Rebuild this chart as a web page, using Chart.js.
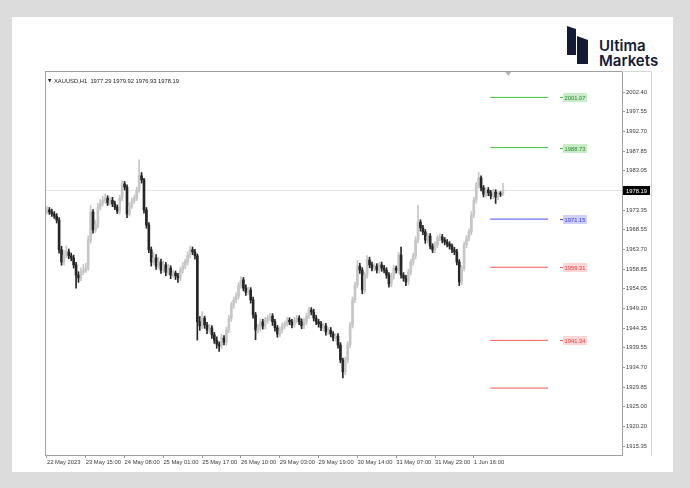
<!DOCTYPE html>
<html>
<head>
<meta charset="utf-8">
<script src="https://cdn.jsdelivr.net/npm/chart.js@4.4.0/dist/chart.umd.min.js"></script>
<style>
  html, body { margin: 0; padding: 0; width: 690px; height: 488px; overflow: hidden; background: #dcdcdc; }
  #card { position: absolute; left: 12px; top: 17px; width: 661px; height: 455px; background: #fff; }
  #logo { position: absolute; left: 560px; top: 20px; }
  #brand { position: absolute; left: 599px; top: 38px; font-family: Inter, Roboto, sans-serif; font-weight: 600; font-size: 15px; line-height: 15px; color: #131a35; }
  canvas { position: absolute; left: 0; top: 0; }
</style>
</head>
<body>
<div id="card"></div>
<svg id="logo" width="40" height="50" viewBox="0 0 40 50">
  <polygon points="7,6 16,9 16,35 7,35" fill="#131a35"/>
  <polygon points="17,16 28,20 28,44 17,44" fill="#131a35"/>
</svg>
<div id="brand">Ultima<br>Markets</div>
<canvas id="c" width="690" height="488"></canvas>
<script>
// XAUUSD H1 candles
const opens = [
  1973.0,1973.4,1972.9,1972.4,1971.9,1970.9,1963.6,1960.6,1962.3,1963.1,
  1962.1,1961.6,1959.9,1957.4,1956.7,1958.1,1958.6,1959.1,1966.0,1972.9,
  1968.5,1969.7,1974.1,1975.1,1975.8,1976.3,1975.1,1975.8,1974.9,1974.1,
  1973.1,1976.3,1979.8,1979.0,1972.4,1974.4,1975.6,1976.3,1978.3,1981.8,
  1980.8,1973.4,1969.7,1963.6,1960.6,1961.6,1959.6,1960.6,1958.6,1959.9,
  1958.1,1959.1,1957.4,1957.9,1957.2,1956.7,1958.6,1959.6,1960.6,1962.3,
  1963.6,1963.1,1962.1,1945.9,1944.9,1946.8,1945.1,1943.9,1944.4,1942.7,
  1941.4,1940.4,1940.0,1941.9,1940.9,1943.9,1946.8,1950.0,1951.3,1952.2,
  1954.9,1956.2,1954.2,1953.2,1953.7,1951.3,1947.6,1943.9,1944.4,1945.9,
  1944.9,1946.3,1946.8,1947.3,1945.9,1944.4,1942.9,1943.9,1944.9,1945.4,
  1946.3,1945.9,1945.1,1946.3,1946.8,1945.9,1944.9,1945.9,1947.3,1948.8,
  1948.3,1946.8,1945.9,1945.4,1944.4,1944.9,1943.4,1943.9,1942.9,1941.9,
  1942.4,1940.2,1936.5,1933.6,1936.5,1940.2,1945.1,1951.3,1954.9,1959.6,
  1958.6,1953.7,1957.4,1961.1,1959.9,1959.1,1959.6,1958.6,1959.9,1959.1,
  1958.6,1957.4,1955.2,1957.2,1959.1,1958.6,1962.3,1957.4,1956.7,1955.7,
  1958.1,1960.6,1962.1,1966.0,1970.4,1969.0,1968.0,1966.0,1967.0,1964.5,
  1963.6,1964.8,1966.5,1966.8,1966.0,1965.5,1965.0,1964.5,1963.6,1963.1,
  1960.6,1955.7,1959.1,1964.8,1966.5,1968.0,1972.2,1975.8,1979.5,1981.3,
  1978.8,1977.3,1978.3,1977.6,1976.8,1977.8,1976.6,1977.3,1977.29
];
const highs = [
  1974.2,1974.0,1973.6,1973.0,1972.5,1971.5,1964.5,1963.4,1964.6,1963.8,
  1962.8,1962.3,1960.5,1958.2,1959.2,1960.0,1960.3,1967.0,1974.5,1973.5,
  1970.8,1975.0,1976.0,1976.8,1977.3,1976.9,1976.6,1976.5,1975.6,1974.6,
  1977.0,1980.6,1980.4,1979.6,1975.2,1976.3,1977.1,1979.0,1985.7,1982.6,
  1981.2,1974.0,1970.3,1964.3,1962.9,1962.4,1961.8,1961.3,1960.8,1960.5,
  1960.0,1959.7,1958.5,1958.4,1957.8,1959.3,1960.5,1961.3,1963.0,1964.5,
  1964.3,1963.7,1962.6,1947.2,1948.4,1947.3,1945.8,1945.3,1945.0,1943.3,
  1942.2,1941.0,1942.8,1942.5,1944.6,1947.5,1950.7,1952.0,1953.0,1955.6,
  1957.0,1956.8,1955.0,1954.4,1954.3,1952.0,1948.2,1945.3,1946.6,1946.5,
  1947.0,1947.5,1948.0,1947.9,1946.5,1945.0,1944.6,1945.6,1946.0,1947.0,
  1946.9,1946.5,1947.0,1947.5,1947.4,1946.6,1946.8,1948.0,1949.5,1949.4,
  1949.0,1947.5,1946.5,1946.0,1945.6,1945.5,1944.5,1944.5,1943.5,1943.0,
  1943.0,1940.8,1937.0,1937.2,1941.0,1945.8,1952.0,1955.6,1961.0,1960.3,
  1959.2,1958.1,1962.2,1961.8,1960.6,1960.3,1960.2,1960.6,1960.6,1959.8,
  1959.2,1958.0,1957.9,1959.8,1959.6,1963.0,1964.3,1958.0,1957.3,1958.8,
  1961.3,1962.8,1966.8,1974.6,1971.0,1969.6,1968.6,1967.6,1967.6,1965.1,
  1965.5,1967.2,1967.5,1967.4,1966.6,1966.1,1965.6,1965.1,1964.2,1963.7,
  1961.2,1959.8,1965.5,1967.2,1968.7,1973.0,1976.5,1980.2,1982.7,1981.8,
  1979.4,1978.9,1978.9,1978.2,1978.5,1978.4,1977.9,1977.9,1979.92
];
const lows = [
  1972.4,1972.3,1971.8,1971.3,1970.2,1962.8,1959.8,1959.9,1961.6,1961.4,
  1960.9,1959.1,1954.2,1955.6,1956.0,1957.5,1958.0,1958.5,1965.2,1967.7,
  1967.9,1969.0,1973.4,1974.4,1975.1,1974.5,1974.6,1974.2,1973.5,1972.5,
  1972.4,1975.7,1978.3,1971.5,1971.9,1973.8,1975.0,1975.7,1977.7,1980.0,
  1972.6,1968.9,1962.9,1959.6,1959.9,1958.8,1959.0,1957.8,1958.0,1957.2,
  1957.5,1956.5,1956.8,1956.3,1955.6,1956.0,1957.9,1958.9,1959.9,1961.6,
  1962.4,1961.3,1941.4,1943.8,1944.2,1944.3,1943.0,1943.1,1941.8,1940.6,
  1939.4,1938.6,1939.3,1940.2,1940.1,1943.2,1946.0,1949.2,1950.6,1951.5,
  1954.2,1953.5,1952.4,1952.6,1950.5,1946.8,1941.5,1943.1,1943.6,1944.1,
  1944.1,1945.6,1946.2,1945.0,1943.6,1942.1,1942.2,1943.1,1944.2,1944.8,
  1945.2,1944.4,1944.5,1945.6,1945.2,1944.2,1944.2,1945.2,1946.7,1947.6,
  1946.1,1945.2,1944.6,1943.7,1943.7,1942.6,1942.8,1942.2,1941.2,1941.2,
  1939.4,1935.8,1932.1,1932.9,1935.8,1939.5,1944.4,1950.6,1954.2,1957.8,
  1952.8,1952.9,1956.6,1959.2,1958.4,1958.4,1957.9,1957.9,1958.3,1957.9,
  1956.6,1954.4,1954.5,1956.4,1957.9,1957.8,1956.6,1955.9,1954.8,1955.0,
  1957.4,1959.8,1961.3,1965.3,1968.2,1967.3,1965.2,1965.3,1963.8,1962.9,
  1962.9,1964.1,1965.8,1965.3,1964.8,1964.3,1963.8,1962.9,1962.4,1959.9,
  1954.8,1955.0,1958.4,1964.1,1965.8,1967.3,1971.5,1975.1,1978.8,1978.1,
  1976.6,1976.6,1976.9,1976.1,1976.2,1975.0,1975.9,1976.7,1976.93
];
const closes = [
  1973.4,1972.9,1972.4,1971.9,1970.9,1963.6,1960.6,1962.3,1963.1,1962.1,
  1961.6,1959.9,1957.4,1956.7,1958.1,1958.6,1959.1,1966.0,1972.9,1968.5,
  1969.7,1974.1,1975.1,1975.8,1976.3,1975.1,1975.8,1974.9,1974.1,1973.1,
  1976.3,1979.8,1979.0,1972.4,1974.4,1975.6,1976.3,1978.3,1981.8,1980.8,
  1973.4,1969.7,1963.6,1960.6,1961.6,1959.6,1960.6,1958.6,1959.9,1958.1,
  1959.1,1957.4,1957.9,1957.2,1956.7,1958.6,1959.6,1960.6,1962.3,1963.6,
  1963.1,1962.1,1945.9,1944.9,1946.8,1945.1,1943.9,1944.4,1942.7,1941.4,
  1940.4,1940.0,1941.9,1940.9,1943.9,1946.8,1950.0,1951.3,1952.2,1954.9,
  1956.2,1954.2,1953.2,1953.7,1951.3,1947.6,1943.9,1944.4,1945.9,1944.9,
  1946.3,1946.8,1947.3,1945.9,1944.4,1942.9,1943.9,1944.9,1945.4,1946.3,
  1945.9,1945.1,1946.3,1946.8,1945.9,1944.9,1945.9,1947.3,1948.8,1948.3,
  1946.8,1945.9,1945.4,1944.4,1944.9,1943.4,1943.9,1942.9,1941.9,1942.4,
  1940.2,1936.5,1933.6,1936.5,1940.2,1945.1,1951.3,1954.9,1959.6,1958.6,
  1953.7,1957.4,1961.1,1959.9,1959.1,1959.6,1958.6,1959.9,1959.1,1958.6,
  1957.4,1955.2,1957.2,1959.1,1958.6,1962.3,1957.4,1956.7,1955.7,1958.1,
  1960.6,1962.1,1966.0,1970.4,1969.0,1968.0,1966.0,1967.0,1964.5,1963.6,
  1964.8,1966.5,1966.8,1966.0,1965.5,1965.0,1964.5,1963.6,1963.1,1960.6,
  1955.7,1959.1,1964.8,1966.5,1968.0,1972.2,1975.8,1979.5,1981.3,1978.8,
  1977.3,1978.3,1977.6,1976.8,1977.8,1976.6,1977.3,1977.29,1978.19
];

// time axis labels (bar index -> text)
const timeTickBars = [0, 16, 32, 48, 64, 80, 96, 112, 128, 144, 160, 176];
const timeTickText = ['22 May 2023', '23 May 15:00', '24 May 08:00', '25 May 01:00', '25 May 17:00',
  '26 May 10:00', '29 May 03:00', '29 May 19:00', '30 May 14:00', '31 May 07:00', '31 May 23:00', '1 Jun 16:00'];

// price axis labels
const priceTicks = [2002.40, 1997.55, 1992.70, 1987.85, 1983.05, 1973.35, 1968.55, 1963.70, 1958.85,
  1954.05, 1949.20, 1944.35, 1939.55, 1934.70, 1929.85, 1925.00, 1920.20, 1915.35];

// horizontal levels drawn on the right
const levelPrices = [2001.07, 1988.73, 1971.15, 1959.31, 1941.34, 1929.60];
const levelKinds = ['green', 'green', 'blue', 'red', 'red', 'red'];
const levelLabels = ['2001.07', '1988.73', '1971.15', '1959.31', '1941.34', ''];
const levelFromBar = 182.7;
const levelToBar = 206.6;

const lastPrice = 1978.19;
const header = 'XAUUSD,H1  1977.29 1979.92 1976.93 1978.19';

const kindStyle = {
  green: { line: '#3fc43f', bg: '#c8ebc8', text: '#2a8a2a' },
  blue: { line: '#4a4afa', bg: '#d0d0ff', text: '#3434ee' },
  red: { line: '#ff5a5a', bg: '#ffd6d6', text: '#f03c3c' }
};

const UP = '#c6c6c6';
const DOWN = '#262626';
const candleColor = closes.map((c, i) => (c >= opens[i] ? UP : DOWN));

const FONT = '"Liberation Sans", Arial, sans-serif';
Chart.defaults.font.family = FONT;
Chart.defaults.font.size = 5.8;
Chart.defaults.color = '#3a3a3a';

const datasets = [
  {
    type: 'line',
    data: [{ x: -5, y: lastPrice }, { x: 300, y: lastPrice }],
    borderColor: '#e4e4e4',
    borderWidth: 1,
    pointRadius: 0,
    order: 10
  },
  {
    type: 'bar',
    data: lows.map((l, i) => ({ x: i, y: [l, highs[i]] })),
    backgroundColor: candleColor,
    barThickness: 1,
    grouped: false,
    order: 2
  },
  {
    type: 'bar',
    data: opens.map((o, i) => ({ x: i, y: [o, closes[i]] })),
    backgroundColor: candleColor,
    barThickness: 2,
    minBarLength: 1,
    grouped: false,
    order: 1
  }
];

levelPrices.forEach((p, k) => {
  datasets.push({
    type: 'line',
    data: [{ x: levelFromBar, y: p }, { x: levelToBar, y: p }],
    borderColor: kindStyle[levelKinds[k]].line,
    borderWidth: 1,
    pointRadius: 0,
    order: 0
  });
});

const overlay = {
  id: 'overlay',
  afterDraw(chart) {
    const { ctx, chartArea: a, scales: { x, y } } = chart;
    ctx.save();

    // chart frame and price strip
    ctx.lineWidth = 1;
    ctx.strokeStyle = '#a0a0a0';
    ctx.strokeRect(a.left - 0.5, a.top - 0.5, a.right - a.left + 1, a.bottom - a.top + 1);
    ctx.strokeStyle = '#d6d6d6';
    ctx.beginPath();
    ctx.moveTo(a.right, a.top - 0.5);
    ctx.lineTo(a.right + 29.5, a.top - 0.5);
    ctx.lineTo(a.right + 29.5, a.bottom + 0.5);
    ctx.stroke();

    // header
    ctx.fillStyle = '#222';
    ctx.font = '4.5px "DejaVu Sans"';
    ctx.textBaseline = 'alphabetic';
    ctx.fillText('\u25BC', a.left + 2, a.top + 10);
    ctx.font = '5.8px ' + FONT;
    ctx.fillText(header, a.left + 8, a.top + 11);

    // shift marker
    const sx = x.getPixelForValue(190.2);
    ctx.fillStyle = '#b4b4b4';
    ctx.beginPath();
    ctx.moveTo(sx - 3, a.top);
    ctx.lineTo(sx + 3, a.top);
    ctx.lineTo(sx, a.top + 4);
    ctx.closePath();
    ctx.fill();

    // last price tag
    const py = Math.round(y.getPixelForValue(lastPrice));
    ctx.fillStyle = '#000';
    ctx.fillRect(a.right + 1, py - 4, 27, 9);
    ctx.fillStyle = '#fff';
    ctx.fillText(lastPrice.toFixed(2), a.right + 4, py + 3);

    // level tags
    levelLabels.forEach((t, k) => {
      if (!t) return;
      const st = kindStyle[levelKinds[k]];
      const ly = Math.round(y.getPixelForValue(levelPrices[k]));
      const lx = Math.round(x.getPixelForValue(levelToBar)) + 12;
      const w = ctx.measureText(t).width + 3;
      ctx.fillStyle = st.line;
      ctx.fillRect(lx, ly, 3, 1);
      ctx.fillStyle = st.bg;
      ctx.fillRect(lx + 3, ly - 4, w, 9);
      ctx.fillStyle = st.text;
      ctx.fillText(t, lx + 4.5, ly + 3);
    });

    ctx.restore();
  }
};

new Chart(document.getElementById('c'), {
  type: 'bar',
  data: { datasets },
  options: {
    responsive: false,
    animation: false,
    events: [],
    layout: { padding: { left: 46, top: 72, right: 39, bottom: 19 } },
    plugins: { legend: { display: false }, tooltip: { enabled: false } },
    scales: {
      x: {
        type: 'linear',
        min: -0.4,
        max: 237.1,
        offset: false,
        afterBuildTicks: (s) => { s.ticks = timeTickBars.map((v) => ({ value: v })); },
        afterFit: (s) => { s.height = 14; },
        ticks: {
          autoSkip: false,
          maxRotation: 0,
          align: 'start',
          padding: 1,
          callback: (v) => timeTickText[timeTickBars.indexOf(v)] || ''
        },
        grid: { drawOnChartArea: false, tickLength: 3, color: '#9a9a9a', offset: false },
        border: { display: false }
      },
      y: {
        position: 'right',
        min: 1913.15,
        max: 2007.32,
        afterBuildTicks: (s) => { s.ticks = priceTicks.map((v) => ({ value: v })); },
        afterFit: (s) => { s.width = 29; },
        ticks: { padding: 1, callback: (v) => v.toFixed(2) },
        grid: { drawOnChartArea: false, tickLength: 3, color: '#9a9a9a' },
        border: { display: false }
      }
    }
  },
  plugins: [overlay]
});
</script>
</body>
</html>
